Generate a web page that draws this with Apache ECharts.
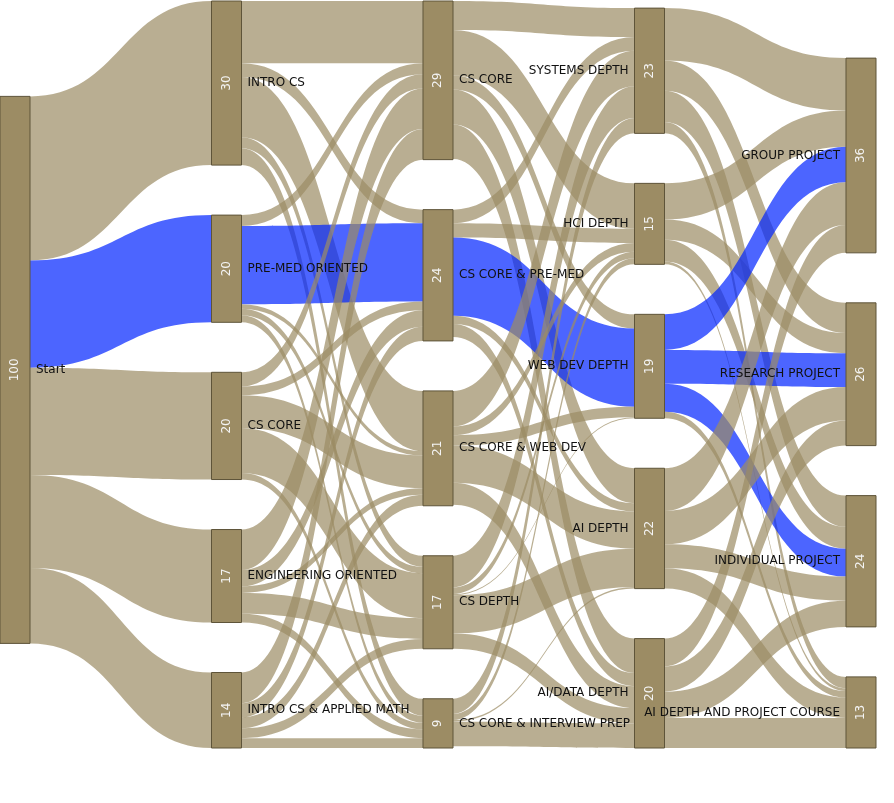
<!DOCTYPE html>
<html>
<head>
<meta charset="utf-8">
<script src="https://cdn.jsdelivr.net/npm/echarts@6/dist/echarts.min.js"></script>
<style>
  html, body { margin: 0; padding: 0; background: #fff; }
  #chart { width: 894px; height: 803px; }
</style>
</head>
<body>
<div id="chart"></div>
<script>
// node labels, in column order (level 0 .. level 4)
const nodeNames = [
  'Start',
  'INTRO CS', 'PRE-MED ORIENTED', 'CS CORE', 'ENGINEERING ORIENTED', 'INTRO CS & APPLIED MATH',
  'CS CORE', 'CS CORE & PRE-MED', 'CS CORE & WEB DEV', 'CS DEPTH', 'CS CORE & INTERVIEW PREP',
  'SYSTEMS DEPTH', 'HCI DEPTH', 'WEB DEV DEPTH', 'AI DEPTH', 'AI/DATA DEPTH',
  'GROUP PROJECT', 'RESEARCH PROJECT', 'INDIVIDUAL PROJECT', 'AI DEPTH AND PROJECT COURSE'
];
const nodeDepths = [0, 1, 1, 1, 1, 1, 2, 2, 2, 2, 2, 3, 3, 3, 3, 3, 4, 4, 4, 4];

// flows between columns (rows = source nodes, cols = target nodes)
const startFlows = [[30.0, 19.6, 19.6, 17.0, 13.8]];
const level1Flows = [
  [11.4, 2.5, 11.0, 2.0, 3.1],
  [2.0, 14.3, 0.8, 1.2, 1.3],
  [2.6, 1.6, 6.0, 8.2, 1.2],
  [7.4, 3.0, 1.2, 3.8, 1.6],
  [5.6, 2.6, 2.0, 1.8, 1.8]
];
const level2Flows = [
  [5.3, 8.3, 2.6, 6.4, 6.3],
  [2.5, 2.6, 14.3, 1.5, 2.4],
  [6.5, 1.6, 1.9, 6.8, 4.0],
  [5.8, 1.2, 0.2, 7.0, 2.8],
  [2.8, 1.1, 0, 0.3, 4.5]
];
const level3Flows = [
  [9.6, 5.5, 5.7, 2.1],
  [6.6, 3.7, 4.0, 0.5],
  [6.5, 6.2, 5.1, 1.2],
  [7.8, 6.1, 4.4, 3.7],
  [5.1, 4.6, 4.8, 5.5]
];

// the highlighted path (source index, target index)
const highlighted = [[0, 2], [2, 7], [7, 13], [13, 16], [13, 17], [13, 18]];

const tan = 'rgb(155,140,100)';
const blue = 'rgb(0,36,255)';

const columns = [];
for (let d = 0; d <= 4; d++) {
  columns.push(nodeDepths.map((v, i) => v === d ? i : -1).filter(i => i >= 0));
}

const links = [];
function addFlows(sources, targets, matrix) {
  matrix.forEach((row, r) => {
    row.forEach((value, c) => {
      if (!value) return;
      const s = sources[r], t = targets[c];
      const isBlue = highlighted.some(h => h[0] === s && h[1] === t);
      links.push({
        source: 'n' + s,
        target: 'n' + t,
        value: value,
        lineStyle: { color: isBlue ? blue : tan }
      });
    });
  });
}
addFlows(columns[0], columns[1], startFlows);
addFlows(columns[1], columns[2], level1Flows);
addFlows(columns[2], columns[3], level2Flows);
addFlows(columns[3], columns[4], level3Flows);

const nodes = nodeNames.map((n, i) => ({ name: 'n' + i, depth: nodeDepths[i] }));

const layout = {
  type: 'sankey',
  left: 0, right: 18, top: 1, bottom: 55,
  nodeWidth: 30,
  nodeGap: 50,
  draggable: false,
  emphasis: { disabled: true },
  nodeAlign: 'justify'
};

const chart = echarts.init(document.getElementById('chart'));
chart.setOption({
  animation: false,
  series: [
    // nodes, links and the values inside the nodes
    Object.assign({}, layout, {
      z: 2,
      data: nodes,
      links: links,
      itemStyle: { color: '#9c8c64', borderColor: '#5e5439', borderWidth: 1 },
      lineStyle: { opacity: 0.7, curveness: 0.5 },
      label: {
        show: true,
        position: 'inside',
        rotate: 90,
        color: '#f4f4f4',
        fontFamily: 'DejaVu Sans',
        fontSize: 12,
        formatter: p => String(Math.round(p.value))
      }
    }),
    // node names on top of everything
    Object.assign({}, layout, {
      z: 3,
      silent: true,
      data: nodes,
      links: links.map(l => Object.assign({}, l, { lineStyle: { opacity: 0 } })),
      itemStyle: { color: 'rgba(0,0,0,0)', borderWidth: 0 },
      lineStyle: { opacity: 0 },
      label: {
        show: true,
        position: 'right',
        distance: 6,
        color: '#111',
        fontFamily: 'DejaVu Sans',
        fontSize: 12,
        formatter: p => nodeNames[p.dataIndex]
      },
      levels: [
        { depth: 3, label: { position: 'left' } },
        { depth: 4, label: { position: 'left' } }
      ]
    })
  ]
});
</script>
</body>
</html>
